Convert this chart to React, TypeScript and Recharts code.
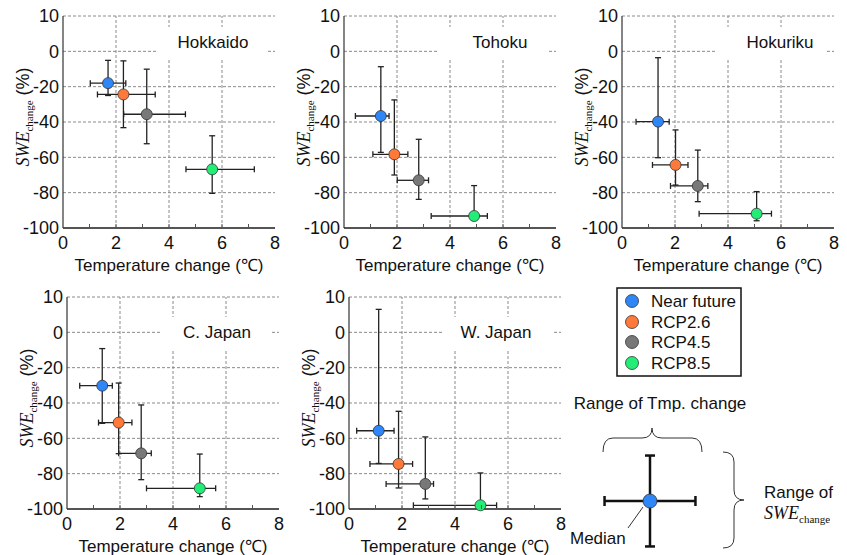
import React from 'react';
import { ScatterChart, Scatter, XAxis, YAxis, CartesianGrid, ErrorBar, ReferenceLine } from 'recharts';

const SANS = '"Liberation Sans", Arial, sans-serif';
const SERIF = '"Liberation Serif", "Times New Roman", serif';

const scenarios = ['Near future', 'RCP2.6', 'RCP4.5', 'RCP8.5'];
const scenarioColors = ['#2F86F6', '#FF7A3A', '#787878', '#22EE77'];
const regions = ['Hokkaido', 'Tohoku', 'Hokuriku', 'C. Japan', 'W. Japan'];

// temperature change (degC): median, lower and upper end of range; rows = regions
const tmpMedian = [
  [1.70, 2.28, 3.16, 5.63],
  [1.39, 1.90, 2.82, 4.91],
  [1.36, 2.02, 2.86, 5.08],
  [1.33, 1.95, 2.80, 5.01],
  [1.12, 1.87, 2.88, 4.96],
];
const tmpLow = [
  [1.03, 1.30, 2.29, 4.64],
  [0.43, 1.09, 2.01, 3.29],
  [0.53, 1.15, 1.83, 2.91],
  [0.48, 1.19, 1.95, 3.00],
  [0.29, 0.79, 1.40, 2.43],
];
const tmpHigh = [
  [2.37, 3.48, 4.62, 7.22],
  [1.70, 2.41, 3.19, 5.41],
  [1.78, 2.49, 3.24, 5.64],
  [1.71, 2.45, 3.18, 5.61],
  [1.70, 2.40, 3.19, 5.57],
];

// SWE change (%): median, lower and upper end of range
const sweMedian = [
  [-18.0, -24.4, -35.6, -66.8],
  [-36.6, -58.3, -73.0, -93.2],
  [-39.8, -64.3, -76.2, -91.9],
  [-30.2, -51.1, -68.5, -88.3],
  [-55.7, -74.5, -85.8, -97.9],
];
const sweLow = [
  [-25.0, -43.2, -52.3, -80.4],
  [-57.2, -70.0, -83.8, -95.0],
  [-60.2, -75.7, -85.1, -95.9],
  [-51.5, -68.7, -83.4, -93.0],
  [-74.2, -88.1, -94.3, -99.0],
];
const sweHigh = [
  [-5.1, -5.4, -10.1, -47.8],
  [-8.7, -27.5, -49.8, -76.0],
  [-3.6, -44.5, -55.9, -79.4],
  [-9.2, -28.7, -41.1, -68.9],
  [13.0, -44.7, -59.2, -79.6],
];

const xTicks = [0, 1, 2, 3, 4, 5, 6, 7, 8];
const xMinorTop = [1, 2, 3, 4, 5, 6, 7];
const xGrid = [2, 4, 6];
const yTicks = [-100, -80, -60, -40, -20, 0, 20];
// the top tick of the original axis is printed as "10"
const yTickText: Record<number, string> = { 20: '10' };

const demoPoint = [{ x: 0, y: 0, ex: [1, 1], ey: [1, 1] }];

const panels = [
  { left: 0, top: 0, titleCx: 150, titleCy: 27 },
  { left: 281, top: 0, titleCx: 156, titleCy: 27 },
  { left: 559, top: 0, titleCx: 158, titleCy: 27 },
  { left: 4, top: 281, titleCx: 150, titleCy: 36 },
  { left: 286, top: 281, titleCx: 147, titleCy: 36 },
];

const PL = 63; // y axis width
const PT = 16;
const PS = 212;
const CW = PL + PS + 10;
const CH = PT + PS + 47;

const Dot = (props: any) => (
  <circle cx={props.cx} cy={props.cy} r={props.r ?? 5.5} fill={props.fill} stroke="#333" strokeWidth={0.8} />
);

function BottomTick(props: any) {
  const { x, y, payload } = props;
  const v = payload.value;
  return (
    <g>
      {v > 0 && v < 8 && <line x1={x} y1={y} x2={x} y2={y - 4} stroke="#555" />}
      {v % 2 === 0 && (
        <text x={x} y={y + 15} textAnchor="middle" dominantBaseline="central"
          fontSize={18} fontFamily={SANS} fill="#111">{v}</text>
      )}
    </g>
  );
}

function TopTick(props: any) {
  const { x, y } = props;
  return <line x1={x} y1={y} x2={x} y2={y + 4} stroke="#555" />;
}

function XTitle({ viewBox }: any) {
  if (!viewBox) return null;
  return (
    <text x={viewBox.x + viewBox.width / 2} y={viewBox.y + 37} textAnchor="middle"
      dominantBaseline="central" fontSize={17} fontFamily={SANS} fill="#111">
      Temperature change (℃)
    </text>
  );
}

function YTitle({ viewBox }: any) {
  if (!viewBox) return null;
  const cx = viewBox.x + 29;
  const cy = viewBox.y + viewBox.height / 2 - 5;
  return (
    <text transform={`translate(${cx},${cy}) rotate(-90)`} textAnchor="middle" fontSize={18} fill="#111">
      <tspan fontFamily={SERIF} fontStyle="italic">SWE</tspan>
      <tspan fontFamily={SERIF} fontSize={11} dy={4}>change</tspan>
      <tspan fontFamily={SANS} dx={5} dy={-4}>(%)</tspan>
    </text>
  );
}

function Panel({ idx }: { idx: number }) {
  const pos = panels[idx];
  const series = scenarios.map((name, s) => ({
    name,
    color: scenarioColors[s],
    data: [{
      x: tmpMedian[idx][s],
      y: sweMedian[idx][s],
      ex: [tmpMedian[idx][s] - tmpLow[idx][s], tmpHigh[idx][s] - tmpMedian[idx][s]],
      ey: [sweMedian[idx][s] - sweLow[idx][s], sweHigh[idx][s] - sweMedian[idx][s]],
    }],
  }));

  return (
    <div style={{ position: 'absolute', left: pos.left, top: pos.top, width: CW, height: CH }}>
      <ScatterChart width={CW} height={CH} margin={{ top: PT, right: 10, bottom: 0, left: 0 }}>
        <CartesianGrid stroke="#8a8a8a" strokeDasharray="3 2" vertical={false} />
        {xGrid.map((v) => (
          <ReferenceLine key={v} x={v} stroke="#8a8a8a" strokeDasharray="3 2" />
        ))}
        <XAxis
          type="number"
          dataKey="x"
          domain={[0, 8]}
          ticks={xTicks}
          interval={0}
          tickSize={0}
          tickMargin={0}
          tick={<BottomTick />}
          height={47}
          axisLine={{ stroke: '#555', strokeWidth: 2 }}
          label={<XTitle />}
        />
        <XAxis
          xAxisId="top"
          orientation="top"
          type="number"
          domain={[0, 8]}
          ticks={xMinorTop}
          interval={0}
          tickSize={0}
          tickMargin={0}
          tick={<TopTick />}
          height={0}
          axisLine={{ stroke: '#555' }}
        />
        <YAxis
          type="number"
          dataKey="y"
          domain={[-100, 20]}
          ticks={yTicks}
          interval={0}
          width={PL}
          tickSize={0}
          tickMargin={4}
          tickLine={false}
          tickFormatter={(v: number) => yTickText[v] ?? String(v)}
          tick={{ fontSize: 18, fontFamily: SANS, fill: '#111' }}
          axisLine={{ stroke: '#333', strokeWidth: 1.2 }}
          label={<YTitle />}
        />
        <YAxis
          yAxisId="right"
          orientation="right"
          type="number"
          domain={[-100, 20]}
          width={0}
          tick={false}
          tickLine={false}
          axisLine={{ stroke: '#555' }}
        />
        {series.map((s) => (
          <Scatter key={s.name} name={s.name} data={s.data} fill={s.color}
            shape={Dot} isAnimationActive={false}>
            <ErrorBar dataKey="ex" direction="x" width={3} stroke="#222" strokeWidth={1.3} isAnimationActive={false} />
            <ErrorBar dataKey="ey" direction="y" width={3} stroke="#222" strokeWidth={1.3} isAnimationActive={false} />
          </Scatter>
        ))}
      </ScatterChart>
      <div
        style={{
          position: 'absolute',
          left: PL + 93,
          top: PT + pos.titleCy - 16,
          width: 110,
          height: 32,
          background: '#fff',
        }}
      />
      <div
        style={{
          position: 'absolute',
          left: PL + pos.titleCx - 60,
          width: 120,
          top: PT + pos.titleCy - 11,
          height: 22,
          lineHeight: '22px',
          textAlign: 'center',
          fontFamily: SANS,
          fontSize: 17,
          color: '#111',
        }}
      >
        {regions[idx]}
      </div>
    </div>
  );
}

function Schematic() {
  return (
    <div style={{ position: 'absolute', left: 585, top: 436, width: 130, height: 130 }}>
      <ScatterChart width={130} height={130} margin={{ top: 0, right: 0, bottom: 0, left: 0 }}>
        <XAxis type="number" dataKey="x" domain={[-1.43, 1.43]} hide />
        <YAxis type="number" dataKey="y" domain={[-1.43, 1.43]} hide />
        <Scatter data={demoPoint} fill={scenarioColors[0]} isAnimationActive={false}
          shape={(p: any) => <Dot {...p} r={7} />}>
          <ErrorBar dataKey="ex" direction="x" width={5} stroke="#111" strokeWidth={2.5} isAnimationActive={false} />
          <ErrorBar dataKey="ey" direction="y" width={5} stroke="#111" strokeWidth={2.5} isAnimationActive={false} />
        </Scatter>
      </ScatterChart>
    </div>
  );
}

function Annotations() {
  const rowY = [301, 322, 342, 363];
  return (
    <svg width={847} height={555} style={{ position: 'absolute', left: 0, top: 0, pointerEvents: 'none' }}>
      <rect x={617} y={288} width={124} height={88} fill="#fff" stroke="#111" strokeWidth={1.5} />
      {scenarios.map((name, i) => (
        <g key={name}>
          <circle cx={632} cy={rowY[i]} r={6.5} fill={scenarioColors[i]} stroke="#333" strokeWidth={0.8} />
          <text x={651} y={rowY[i]} dominantBaseline="central" fontSize={17} fontFamily={SANS} fill="#111">{name}</text>
        </g>
      ))}
      <text x={660} y={403} textAnchor="middle" dominantBaseline="central" fontSize={17} fontFamily={SANS} fill="#111">
        Range of Tmp. change
      </text>
      <path d="M603,452 Q603,438 613,438 L642,438 Q652,438 652,428 Q652,438 662,438 L692,438 Q702,438 702,452"
        fill="none" stroke="#333" strokeWidth={1} />
      <path d="M723,452 Q734,452 734,462 L734,490 Q734,500 744,500 Q734,500 734,510 L734,538 Q734,548 723,548"
        fill="none" stroke="#333" strokeWidth={1} />
      <text x={764} y={492} dominantBaseline="central" fontSize={17} fontFamily={SANS} fill="#111">Range of</text>
      <text x={764} y={519} fontSize={18} fill="#111">
        <tspan fontFamily={SERIF} fontStyle="italic">SWE</tspan>
        <tspan fontFamily={SERIF} fontSize={11} dy={4}>change</tspan>
      </text>
      <line x1={628} y1={528} x2={643} y2={507} stroke="#333" strokeWidth={1} />
      <text x={570} y={538} dominantBaseline="central" fontSize={17} fontFamily={SANS} fill="#111">Median</text>
    </svg>
  );
}

export default function App() {
  return (
    <div style={{ position: 'absolute', left: 0, top: 0, width: 847, height: 555, background: '#fff', overflow: 'hidden' }}>
      {regions.map((r, i) => (
        <Panel key={r} idx={i} />
      ))}
      <Schematic />
      <Annotations />
    </div>
  );
}
